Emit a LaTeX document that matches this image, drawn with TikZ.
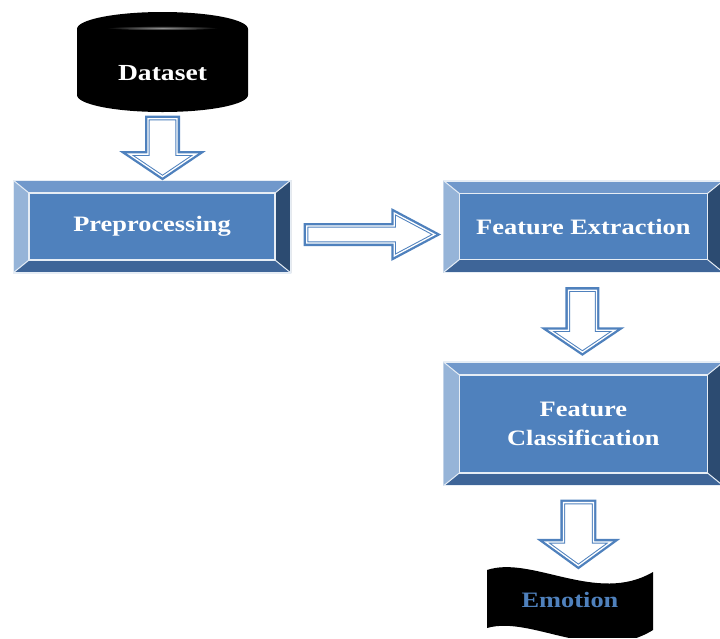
\documentclass[tikz,border=0pt]{standalone}
\usepackage{fontspec}
\setmainfont{Liberation Serif}[FakeStretch=1.2]
\usepackage{tikz}
\usetikzlibrary{calc,positioning,shapes.arrows}
\definecolor{face}{HTML}{4F81BD}
\definecolor{bvtop}{HTML}{7098CB}
\definecolor{bvleft}{HTML}{96B4D8}
\definecolor{bvbot}{HTML}{3E6598}
\definecolor{bvright}{HTML}{2C4B71}
\definecolor{rim}{HTML}{E6EDF5}
\tikzset{
  every node/.style={font=\fontsize{22}{29}\selectfont\bfseries},
  bevelbox/.style={rectangle,fill=face,minimum width=278pt,minimum height=93pt,inner sep=0pt,
    text=white,align=center,
    path picture={
      \coordinate (o1) at (path picture bounding box.north west);
      \coordinate (o2) at (path picture bounding box.north east);
      \coordinate (o3) at (path picture bounding box.south east);
      \coordinate (o4) at (path picture bounding box.south west);
      \coordinate (i1) at ($(o1)+(16pt,-13pt)$);
      \coordinate (i2) at ($(o2)+(-16pt,-13pt)$);
      \coordinate (i3) at ($(o3)+(-16pt,13pt)$);
      \coordinate (i4) at ($(o4)+(16pt,13pt)$);
      \fill[bvtop] (o1) -- (o2) -- (i2) -- (i1) -- cycle;
      \fill[bvbot] (o4) -- (o3) -- (i3) -- (i4) -- cycle;
      \fill[bvleft] (o1) -- (i1) -- (i4) -- (o4) -- cycle;
      \fill[bvright] (o2) -- (i2) -- (i3) -- (o3) -- cycle;
      \fill[face] (i1) rectangle (i3);
      \draw[rim,line width=1.8pt] (i1) rectangle (i3);
      \draw[rim,line width=1pt] (o1) -- (i1) (o2) -- (i2) (o3) -- (i3) (o4) -- (i4);
      \draw[rim,line width=2pt] (o1) rectangle (o3);
    }},
  db/.style={rectangle,minimum width=171pt,minimum height=100pt,inner sep=0pt,
    path picture={
      \fill[black] ($(path picture bounding box.north west)+(0,-17pt)$)
        arc[start angle=180,end angle=0,x radius=85.5pt,y radius=17pt]
        -- ($(path picture bounding box.south east)+(0,17pt)$)
        arc[start angle=0,end angle=-180,x radius=85.5pt,y radius=17pt] -- cycle;
      \shade[inner color=gray!85,outer color=black]
        ($(path picture bounding box.north)+(0,-16pt)$) ellipse[x radius=56pt,y radius=2.2pt];
    }},
  wave/.style={rectangle,minimum width=166pt,minimum height=74pt,inner sep=0pt,text=face,
    path picture={
      \coordinate (w1) at (path picture bounding box.north west);
      \fill[black] ($(w1)+(0,-7pt)$) .. controls ($(w1)+(45pt,8pt)$) and ($(w1)+(110pt,-42pt)$)
        .. ($(w1)+(166pt,-9pt)$) -- ($(w1)+(166pt,-67pt)$)
        .. controls ($(w1)+(110pt,-102pt)$) and ($(w1)+(45pt,-52pt)$) .. ($(w1)+(0,-65pt)$) -- cycle;
    }},
  blk/.style={single arrow,preaction={draw=face,line width=6pt},draw=face,line width=1pt,
    double=white,double distance=1.3pt,fill=white,inner xsep=0pt,anchor=tail},
}
\begin{document}
\begin{tikzpicture}[x=1pt,y=1pt]
  \useasboundingbox (0,0) rectangle (720,-638);
  \node[db] (data) at (162.5,-62) {};
  \node[text=white,font=\fontsize{23}{29}\selectfont\bfseries] (dtxt) at ([yshift=-11pt]data.center) {Dataset};
  \node[bevelbox] (pre) at (152,-226.5) {Preprocessing};
  \node[bevelbox,right=152pt of pre,minimum width=280pt,minimum height=92pt] (fe) {Feature Extraction};
  \node[bevelbox,below=89pt of fe,minimum width=280pt,minimum height=124pt] (fc) {Feature\\Classification};
  \node[wave] (emo) at (570,-600) {Emotion};
  % block arrows
  \node[blk,rotate=-90,minimum height=58pt,inner ysep=14pt,single arrow head extend=19pt,
    single arrow tip angle=112] (a1) at ([yshift=-6pt]data.south) {};
  \node[blk,minimum height=128pt,inner ysep=8pt,single arrow head extend=13pt,
    single arrow tip angle=56] (a2) at ([xshift=15pt,yshift=-8pt]pre.east) {};
  \node[blk,rotate=-90,minimum height=62pt,inner ysep=13.5pt,single arrow head extend=18.5pt,
    single arrow tip angle=112] (a3) at ([xshift=-1pt,yshift=-17pt]fe.south) {};
  \node[blk,rotate=-90,minimum height=63pt,inner ysep=14.5pt,single arrow head extend=17.5pt,
    single arrow tip angle=108] (a4) at ([xshift=-5pt,yshift=-16pt]fc.south) {};
\end{tikzpicture}
\end{document}
